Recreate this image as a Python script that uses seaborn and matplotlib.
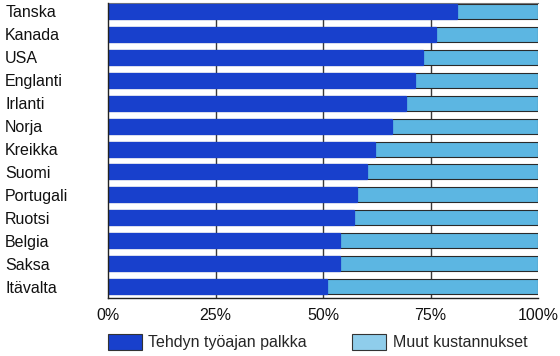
import matplotlib
matplotlib.use("Agg")
import matplotlib.pyplot as plt
import seaborn as sns
import pandas as pd
from matplotlib.patches import Patch
from matplotlib.ticker import FuncFormatter

countries = ["Tanska", "Kanada", "USA", "Englanti", "Irlanti", "Norja", "Kreikka",
             "Suomi", "Portugali", "Ruotsi", "Belgia", "Saksa", "Itävalta"]
palkka = [81.1, 76.3, 73.3, 71.3, 69.3, 66.1, 62.1, 60.2, 58.0, 57.1, 54.0, 54.0, 50.9]
total = [100] * len(countries)
series_names = ["Tehdyn työajan palkka", "Muut kustannukset"]
xticks = [0, 25, 50, 75, 100]

dark = "#1840cc"
light = "#5cb6e2"

df = pd.DataFrame({"maa": countries, "palkka": palkka, "total": total})

sns.set_style("white")
plt.rcParams["font.family"] = ["Liberation Sans", "DejaVu Sans"]

fig = plt.figure(figsize=(5.6, 3.56), dpi=100)
ax = fig.add_axes([108/560, 1-298/356, 430/560, 295/356])

for v in xticks[1:-1]:
    ax.axvline(v, color="#3a3a3a", lw=1.0, zorder=1)

sns.barplot(data=df, y="maa", x="total", orient="h", color=light, width=0.655,
            edgecolor="#2a2a2a", linewidth=0.8, saturation=1, ax=ax, zorder=2)
sns.barplot(data=df, y="maa", x="palkka", orient="h", color=dark, width=0.655,
            edgecolor=dark, linewidth=0.9, saturation=1, ax=ax, zorder=3)

ax.set_xlim(0, 100)
ax.set_ylim(12.5, -0.37)
ax.set_xticks(xticks)
ax.xaxis.set_major_formatter(FuncFormatter(lambda v, p: f"{int(v)}%"))
ax.set_xlabel("")
ax.set_ylabel("")

ax.tick_params(axis="x", length=0, pad=7, labelsize=11.5, colors="#111")
ax.tick_params(axis="y", length=0, pad=74, labelsize=11.5, colors="#111")
for lab in ax.get_yticklabels():
    lab.set_horizontalalignment("left")

for s in ["left", "bottom"]:
    ax.spines[s].set_color("#222")
    ax.spines[s].set_linewidth(1.0)
    ax.spines[s].set_zorder(5)
ax.spines["top"].set_color("#777")
ax.spines["top"].set_linewidth(0.8)
ax.spines["right"].set_visible(False)

handles = [Patch(facecolor=dark, edgecolor="#333", lw=0.8),
           Patch(facecolor="#8fcdeb", edgecolor="#333", lw=0.8)]
fig.legend(handles, series_names, loc="upper left", ncol=2,
           bbox_to_anchor=(108/560, 1-334/356), frameon=False, borderpad=0,
           borderaxespad=0, handlelength=2.12, handleheight=1.12, handletextpad=0.4,
           columnspacing=2.85, fontsize=11.5)

fig.savefig("out.png", dpi=100)
